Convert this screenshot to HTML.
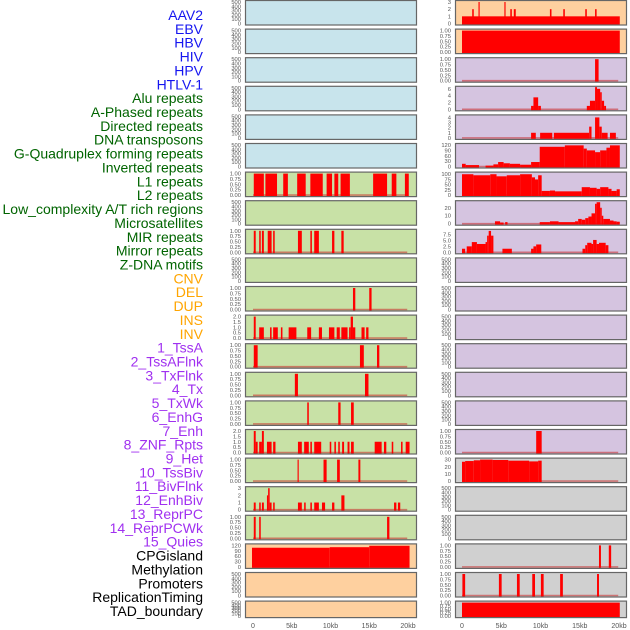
<!DOCTYPE html>
<html><head><meta charset="utf-8"><style>
html,body{margin:0;padding:0;background:#fff;}
svg{display:block;font-family:"Liberation Sans",sans-serif;}
</style></head><body>
<svg id="chart" width="630" height="630" viewBox="0 0 630 630">
<g id="labels"></g>
<g id="panels"></g>
</svg>
<script>
const trackLabels = ["AAV2","EBV","HBV","HIV","HPV","HTLV-1","Alu repeats","A-Phased repeats","Directed repeats","DNA transposons","G-Quadruplex forming repeats","Inverted repeats","L1 repeats","L2 repeats","Low_complexity A/T rich regions","Microsatellites","MIR repeats","Mirror repeats","Z-DNA motifs","CNV","DEL","DUP","INS","INV","1_TssA","2_TssAFlnk","3_TxFlnk","4_Tx","5_TxWk","6_EnhG","7_Enh","8_ZNF_Rpts","9_Het","10_TssBiv","11_BivFlnk","12_EnhBiv","13_ReprPC","14_ReprPCWk","15_Quies","CPGisland","Methylation","Promoters","ReplicationTiming","TAD_boundary"];
const labelGroups = [6,13,5,15,5];
const groupColors = ["#1515f0","#006400","#ffa500","#a030f0","#000000"];
const xTickValues = [0,5,10,15,20];
const xTickLabels = ["0","5kb","10kb","15kb","20kb"];

// segments: [startKb, endKb, value]
const L6 = [[0.1,1.4,1],[1.6,3.1,1],[3.9,4.5,1],[5.7,6.8,1],[7.4,9.0,1],[9.5,10.2,1],[10.5,11.0,1],[11.3,12.5,1],[15.5,17.3,1],[17.9,18.5,1],[19.6,20.1,1]];
const L8 = [[0.1,0.35,1],[0.8,1.0,1],[1.15,1.4,1],[1.9,2.4,1],[2.6,2.8,1],[5.8,6.3,1],[7.4,7.6,1],[7.9,8.5,1],[10.2,10.5,1],[11.4,11.7,1]];
const L10 = [[12.9,13.2,1],[15.0,15.3,1]];
const L11 = [[0.1,0.35,2],[0.8,1.4,1],[2.2,2.4,1],[2.6,3.2,1],[3.6,3.8,1],[4.6,5.6,1],[7.0,7.5,1],[8.5,8.9,1],[9.8,10.5,1],[10.8,11.2,1],[11.4,12.2,1],[12.4,12.6,1],[12.6,12.9,2],[12.9,13.2,1],[14.0,14.4,1],[14.6,14.9,1]];
const L12 = [[0.1,0.6,1],[13.8,14.3,1],[16.0,16.3,1]];
const L13 = [[5.4,5.8,1],[14.45,14.9,1]];
const L14 = [[7.0,7.2,1],[11.0,11.3,1],[12.65,13.0,1]];
const L15 = [[0.1,0.35,2],[0.35,0.6,1],[0.8,1.15,1],[1.15,1.4,2],[1.8,2.4,1],[2.6,2.9,1],[5.8,6.3,1],[6.6,7.2,1],[7.4,7.6,1],[7.9,8.8,1],[9.9,10.1,1],[10.5,10.7,1],[11.0,11.2,1],[11.5,11.75,1],[12.2,12.45,1],[12.65,13.0,1],[15.7,16.6,1],[16.9,17.2,1],[17.9,18.1,1],[19.1,19.3,1],[19.7,20.2,1]];
const L16 = [[5.75,5.9,1],[9.1,9.5,1],[10.85,11.2,1],[13.6,13.85,1]];
const L17 = [[0.1,0.35,1],[0.8,1.0,1],[1.15,1.4,1],[1.8,1.95,2],[1.95,2.15,3],[2.15,2.4,1],[2.6,2.8,1],[5.8,6.3,1],[6.6,6.8,1],[7.4,7.6,1],[7.9,8.5,1],[8.9,9.3,1],[10.2,10.5,1],[11.4,11.8,2],[18.2,18.5,1],[18.7,19.0,1]];
const L18 = [[0.1,0.35,1],[0.8,1.0,1],[17.3,17.6,1]];
const L19 = [[-0.13,9.9,107],[9.9,15.0,110],[15.0,20.2,118]];
const R0 = [[0,20.1,1],[1.3,1.5,2],[2.1,2.25,3],[5.4,5.55,3],[6.15,6.35,2],[6.6,6.85,2],[11.2,11.4,2],[12.9,13.1,2],[15.7,15.9,2],[16.95,17.15,2]];
const R1 = [[0,20.1,1]];
const R2 = [[16.95,17.4,1]];
const R3 = [[8.8,9.1,1],[9.1,9.7,3.5],[9.7,10.05,1],[15.9,16.3,1],[16.3,16.95,2.5],[16.95,17.2,6.5],[17.2,17.6,6],[17.6,17.8,5],[17.8,18.1,2.5],[18.1,18.35,1]];
const R4 = [[8.8,9.4,1],[9.95,11.5,1],[11.7,16.2,1],[16.2,16.5,2.2],[16.95,17.5,4],[17.5,17.8,2.2],[17.8,18.55,1],[18.85,19.6,1]];
const R5 = [[0,0.47,15],[0.47,2.17,8],[3.0,4.0,5],[4.0,4.6,12],[4.6,5.3,25],[5.3,6.1,18],[6.1,7.4,15],[7.4,8.8,10],[8.8,9.9,25],[9.9,13.1,110],[13.1,15.5,118],[15.5,15.9,100],[15.9,16.95,90],[16.95,17.6,80],[17.6,18.4,90],[18.4,18.85,105],[18.85,20.1,118]];
const R6 = [[0,1.45,100],[1.45,3.6,95],[3.6,4.4,100],[4.4,5.7,90],[5.7,7.4,95],[7.4,8.9,100],[8.9,9.3,85],[9.3,9.7,75],[9.7,10.15,95],[10.15,11.2,20],[11.2,11.85,22],[11.85,15.25,18],[15.25,16.3,38],[16.3,17.15,35],[17.15,17.6,30],[17.6,18.65,38],[18.65,19.05,30],[19.05,19.7,20],[19.7,20.1,28]];
const R7 = [[4.2,4.85,3],[4.85,5.3,1.5],[5.5,5.8,2],[9.9,11.2,2],[11.2,12.3,3],[12.3,14.4,2],[14.4,14.8,3],[14.8,15.25,6],[15.25,15.7,5],[15.7,16.1,7],[16.1,16.5,9],[16.5,16.95,13],[16.95,17.15,25],[17.15,17.6,27],[17.6,17.8,20],[17.8,18.0,10],[18.0,18.85,6],[18.85,19.3,4],[19.3,19.7,3],[19.7,20.1,2.5]];
const R8 = [[0,0.4,1.5],[0.6,1.25,2.5],[1.25,1.9,4.3],[1.9,3.0,3.5],[3.0,3.2,4.3],[3.2,3.4,7],[3.4,3.7,9],[3.7,4.0,7],[5.15,6.35,1.5],[8.8,9.1,1.5],[9.1,9.45,2.5],[9.45,10.1,3.3],[15.35,15.7,1.5],[15.7,15.95,3],[15.95,16.5,4],[16.5,16.7,3.5],[16.7,17.15,5.2],[17.15,17.45,3.5],[17.45,18.3,4],[18.3,18.65,3]];
const R15 = [[9.45,10.15,1]];
const R16 = [[0,0.4,27],[0.4,1.5,28],[1.5,2.3,29],[2.3,3.9,30],[3.9,5.9,29.5],[5.9,8.55,28.5],[8.55,9.7,27.5],[9.7,10.15,28.5]];
const R19 = [[17.45,17.7,1],[18.7,19.0,1]];
const R20 = [[0.05,0.4,1],[4.7,5.05,1],[7.0,7.35,1],[8.95,9.3,1],[10.05,10.4,1],[12.5,12.85,1],[17.2,17.45,1]];
const R21 = [[0,20.1,1]];

const T01 = [0,0.25,0.5,0.75,1];
const T02 = [0,0.5,1,1.5,2];
const T03 = [0,1,2,3];
const T500 = [0,100,200,300,400,500];

const NS='http://www.w3.org/2000/svg';
function mk(tag,attrs,parent){const e=document.createElementNS(NS,tag);for(const k in attrs)e.setAttribute(k,attrs[k]);parent.appendChild(e);return e;}

const panelsG=document.getElementById('panels');
const labelsG=document.getElementById('labels');

// labels
let li=0;
labelGroups.forEach((n,g)=>{for(let k=0;k<n;k++){
  const t=mk('text',{x:203,y:15+li*13.86+5,'text-anchor':'end','font-size':'14',fill:groupColors[g]},labelsG);
  t.textContent=trackLabels[li];
  
  
  li++;}});

function rowTop(i){return i*28.6+0.5;}
function rowH(i){return i===21?16.5:24.5;}
function bgColor(col,i){
  if(col==='L'){return i<6?'#c8e4ec':(i<19?'#c8e1a6':'#fed09f');}
  return i<2?'#fed09f':(i<16?'#d5c4e0':'#d0d0d0');
}
const colGeom={L:{x0:245.5,x1:416.5,ox:253,sx:7.75,tx:241},R:{x0:455.5,x1:626.5,ox:462,sx:7.85,tx:451}};
function xScale(col,kb){const g=colGeom[col];return g.ox+kb*g.sx;}

const dataPanels={
 L6:{data:L6,ymax:1,ticks:T01},L8:{data:L8,ymax:1,ticks:T01},L10:{data:L10,ymax:1,ticks:T01},
 L11:{data:L11,ymax:2,ticks:T02},L12:{data:L12,ymax:1,ticks:T01},L13:{data:L13,ymax:1,ticks:T01},
 L14:{data:L14,ymax:1,ticks:T01},L15:{data:L15,ymax:2,ticks:T02},L16:{data:L16,ymax:1,ticks:T01},
 L17:{data:L17,ymax:3,ticks:T03},L18:{data:L18,ymax:1,ticks:T01},L19:{data:L19,ymax:120,ticks:[0,30,60,90,120]},
 R0:{data:R0,ymax:3,ticks:T03},R1:{data:R1,ymax:1,ticks:T01},R2:{data:R2,ymax:1,ticks:T01},
 R3:{data:R3,ymax:6.3,ticks:[0,2,4,6]},R4:{data:R4,ymax:4.2,ticks:[0,1,2,3,4]},R5:{data:R5,ymax:120,ticks:[0,30,60,90,120]},
 R6:{data:R6,ymax:103,ticks:[0,25,50,75,100]},R7:{data:R7,ymax:27,ticks:[0,10,20]},R8:{data:R8,ymax:9.05,ticks:[0,2.5,5,7.5]},
 R15:{data:R15,ymax:1,ticks:T01},R16:{data:R16,ymax:30,ticks:[0,10,20,30]},
 R19:{data:R19,ymax:1,ticks:T01},R20:{data:R20,ymax:1,ticks:T01},R21:{data:R21,ymax:1,ticks:T01}
};
function fmt(ticks,v){
  const dec=ticks.some(t=>Math.round(t*100)%100!==0&&Math.round(t*10)%10!==0)?2:(ticks.some(t=>Math.round(t*10)%10!==0)?(ticks[ticks.length-1]<=2?1:1):0);
  if(ticks===T01)return v.toFixed(2);
  if(ticks===T02)return v.toFixed(1);
  if(ticks.includes(7.5))return v===0?'0.0':v.toFixed(1);
  return v.toFixed(dec);
}

['L','R'].forEach(col=>{
  const g=colGeom[col];
  for(let i=0;i<22;i++){
    const top=rowTop(i),h=rowH(i),bot=top+h;
    const key=col+i;
    const p=dataPanels[key]||{data:null,ymax:500,ticks:T500};
    const pg=mk('g',{},panelsG);
    
    
    const bg=mk('rect',{x:g.x0,y:top,width:g.x1-g.x0,height:h,fill:bgColor(col,i)},pg);
    
    
    const yS=v=>bot-1.5-v/p.ymax*(h-3);
    if(p.data){
      const base=mk('line',{x1:xScale(col,0),x2:xScale(col,19.9),y1:yS(0),y2:yS(0),stroke:'rgba(200,40,40,0.55)','stroke-width':1.6},pg);
      
      
      p.data.forEach(s=>{
        const x1=xScale(col,s[0]),x2=xScale(col,s[1]);
        const r=mk('rect',{x:x1,y:yS(s[2]),width:Math.max(1,x2-x1),height:yS(0)-yS(s[2])+1,fill:'#ff0000'},pg);
        
        
      });
    }
    const br=mk('rect',{x:g.x0,y:top,width:g.x1-g.x0,height:h,fill:'none',stroke:'#666','stroke-width':1.2},pg);
    
    
    p.ticks.forEach(t=>{
      const tt=mk('text',{x:g.tx,y:yS(t)+2,'text-anchor':'end','font-size':'5.8',fill:'#555'},pg);
      tt.textContent=fmt(p.ticks,t);
      
      
    });
  }
  xTickValues.forEach((v,k)=>{
    const t=mk('text',{x:xScale(col,v),y:628,'text-anchor':'middle','font-size':'7',fill:'#555'},panelsG);
    t.textContent=xTickLabels[k];
    
    
  });
});
</script>
</body></html>
